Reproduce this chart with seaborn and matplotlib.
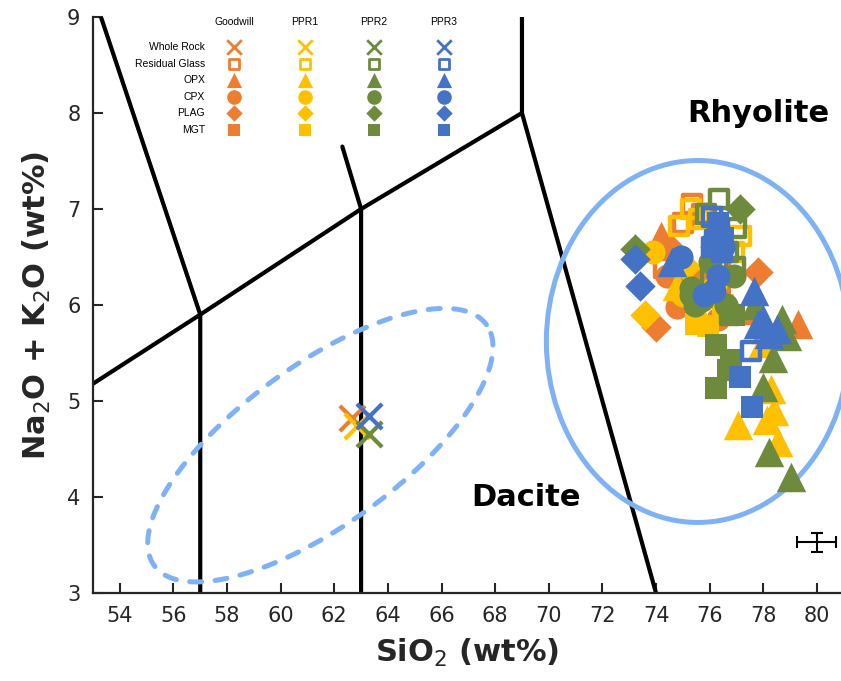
import numpy as np
import pandas as pd
import seaborn as sns
import matplotlib.pyplot as plt
from matplotlib.patches import Ellipse

groups = ["Goodwill", "PPR1", "PPR2", "PPR3"]
group_colors = ["#ED7D31", "#FFC000", "#6E8B3D", "#4472C4"]
phases = ["Whole Rock", "Residual Glass", "OPX", "CPX", "PLAG", "MGT"]
phase_markers = ["x", "s", "^", "o", "D", "s"]

# SiO2 (wt%) and Na2O+K2O (wt%), one list per group
whole_rock_sio2 = [[62.67], [62.86], [63.3], [63.3]]
whole_rock_alk = [[4.82], [4.74], [4.66], [4.84]]

glass_sio2 = [[74.3, 75.35, 75.7, 76.65, 75.0, 76.4],
              [74.85, 77.15, 75.3, 76.9, 76.05, 75.6],
              [76.35, 76.05, 77.0, 76.7, 75.85, 76.95, 76.75],
              [77.55, 76.1, 76.35, 76.2, 76.45, 76.1]]
glass_alk = [[6.39, 7.05, 6.95, 5.93, 6.85, 6.45],
             [6.82, 6.72, 7.0, 6.55, 6.32, 6.9],
             [7.1, 6.27, 6.8, 6.55, 6.95, 6.4, 5.9],
             [5.52, 6.92, 6.8, 6.68, 6.55, 6.6]]

opx_sio2 = [[79.3, 74.2, 78.1, 77.7],
            [77.05, 78.3, 78.4, 78.15, 78.55, 74.8, 78.0],
            [78.0, 78.2, 79.05, 78.35, 78.9, 78.7, 77.7],
            [77.65, 78.0, 78.2, 77.8, 74.6, 78.5]]
opx_alk = [[5.8, 6.72, 5.75, 5.95],
           [4.75, 5.12, 4.9, 4.8, 4.57, 6.2, 5.6],
           [5.15, 4.47, 4.21, 5.45, 5.68, 5.85, 6.0],
           [6.15, 5.85, 5.7, 5.8, 6.45, 5.75]]

cpx_sio2 = [[74.8, 76.3, 75.2, 74.4],
            [73.9, 75.5, 76.2, 75.0],
            [75.3, 75.45, 75.3, 76.9, 76.6, 75.7, 76.0],
            [76.15, 74.95, 76.3, 75.8, 76.5]]
cpx_alk = [[5.98, 5.85, 6.2, 6.3],
           [6.55, 6.0, 6.2, 6.1],
           [6.1, 6.0, 6.18, 6.3, 6.0, 6.05, 6.45],
           [6.15, 6.5, 6.3, 6.1, 6.6]]

plag_sio2 = [[74.0, 77.8, 74.5],
             [73.6, 75.1],
             [77.15, 73.2, 75.9],
             [73.2, 73.4, 76.2]]
plag_alk = [[5.77, 6.34, 6.6],
            [5.9, 6.4],
            [7.0, 6.58, 6.1],
            [6.48, 6.2, 6.6]]

mgt_sio2 = [[76.4, 75.6],
            [75.95, 75.5, 76.5],
            [76.25, 76.8, 76.25, 76.7, 76.9],
            [77.13, 77.58, 76.3, 76.5]]
mgt_alk = [[6.1, 6.3],
           [5.78, 5.8, 6.0],
           [5.58, 5.43, 5.14, 5.32, 5.9],
           [5.25, 4.94, 6.85, 6.7]]

phase_sio2 = [whole_rock_sio2, glass_sio2, opx_sio2, cpx_sio2, plag_sio2, mgt_sio2]
phase_alk = [whole_rock_alk, glass_alk, opx_alk, cpx_alk, plag_alk, mgt_alk]

# analytical uncertainty bar
err_sio2, err_alk = 80.0, 3.53
err_x, err_y = 0.73, 0.1

rows = []
for p, xs_all, ys_all in zip(phases, phase_sio2, phase_alk):
    for g, xs, ys in zip(groups, xs_all, ys_all):
        for x, y in zip(xs, ys):
            rows.append({"group": g, "phase": p, "SiO2": x, "alk": y})
df = pd.DataFrame(rows)

sns.set_theme(style="ticks")
plt.rcParams['font.family'] = ['DejaVu Sans']
fig = plt.figure(figsize=(8.41, 6.81), dpi=100)
ax = fig.add_axes([93 / 841, 88 / 681, 748 / 841, 576 / 681])

# TAS field boundaries
tas_lines = [
    [(52.7, 9.5), (57, 5.9), (57, 2.5)],
    [(52, 5.0), (57, 5.9), (63, 7.0), (69, 8.0)],
    [(62.3, 7.65), (63, 7.0), (63, 2.5)],
    [(69, 9.5), (69, 8.0), (74.5, 2.5)],
]
for ln in tas_lines:
    xs, ys = zip(*ln)
    ax.plot(xs, ys, color="black", lw=3, solid_joinstyle="miter", zorder=1)

ell_color = "#7FB2F5"
ax.add_patch(Ellipse((75.56, 5.62), 11.3, 3.77, fill=False, ec=ell_color, lw=3.6, zorder=1))

# dashed ellipse (rotated on screen)
t = np.linspace(0, 2 * np.pi, 300)
a_px, b_px, th = 205, 80, np.deg2rad(36)
dx_px = a_px * np.cos(t) * np.cos(th) - b_px * np.sin(t) * np.sin(th)
dy_px = a_px * np.cos(t) * np.sin(th) + b_px * np.sin(t) * np.cos(th)
ax.plot(61.48 + dx_px / 26.77, 4.54 + dy_px / 96, color=ell_color, lw=3.6,
        ls=(0, (2.4, 2.7)), dash_capstyle="round", zorder=1)

sizes = {"x": 330, "s": 260, "^": 450, "o": 300, "D": 240}
for g, c in zip(groups, group_colors):
    for p, m in zip(phases, phase_markers):
        sub = df[(df.group == g) & (df.phase == p)]
        if sub.empty:
            continue
        if p == "Residual Glass":
            sns.scatterplot(data=sub, x="SiO2", y="alk", marker="s", s=170,
                            color=c, linewidth=3.2, ax=ax, zorder=3)
            ax.collections[-1].set_facecolor("none")
            ax.collections[-1].set_edgecolor(c)
        elif p == "Whole Rock":
            sns.scatterplot(data=sub, x="SiO2", y="alk", marker="x", s=sizes["x"],
                            color=c, linewidth=3, ax=ax, zorder=3)
        else:
            sns.scatterplot(data=sub, x="SiO2", y="alk", marker=m, s=sizes[m],
                            color=c, linewidth=0, ax=ax, zorder=3)

ax.errorbar(err_sio2, err_alk, xerr=err_x, yerr=err_y, color="black", lw=1.5,
            capsize=4.5, capthick=1.5, zorder=4)

ax.text(77.8, 7.99, "Rhyolite", fontsize=22, fontweight="bold", color="black",
        ha="center", va="center")
ax.text(69.14, 4.0, "Dacite", fontsize=22, fontweight="bold", color="black",
        ha="center", va="center")

ax.set_xlim(53, 80.9)
ax.set_ylim(3, 9)
ax.set_xticks(range(54, 81, 2))
ax.set_yticks(range(3, 10))
ax.tick_params(direction="in", length=7, width=1.5, labelsize=15, pad=9, colors="#262626")
for s in ["left", "bottom"]:
    ax.spines[s].set_linewidth(1.6)
    ax.spines[s].set_color("#262626")
sns.despine(ax=ax)
ax.set_xlabel("SiO$_2$ (wt%)", fontsize=22, fontweight="bold", labelpad=8)
ax.set_ylabel("Na$_2$O + K$_2$O (wt%)", fontsize=22, fontweight="bold", labelpad=10)

# legend block drawn in figure pixels
col_x = [234, 305, 374, 444]
row_y = [47, 64, 80, 97, 113, 130]
leg_font = ["Liberation Sans", "DejaVu Sans"]
for g, cx in zip(groups, col_x):
    fig.text(cx / 841, 1 - 22 / 681, g, fontsize=7.5, family=leg_font, color="black",
             ha="center", va="center")
for p, ry in zip(phases, row_y):
    fig.text(205 / 841, 1 - ry / 681, p, fontsize=7.5, family=leg_font, color="black",
             ha="right", va="center")
leg_sizes = {"x": 110, "s": 75, "^": 120, "o": 110, "D": 70}
for c, cx in zip(group_colors, col_x):
    for p, m, ry in zip(phases, phase_markers, row_y):
        pos = (cx / 841, 1 - ry / 681)
        if p == "Residual Glass":
            ax.scatter(*pos, marker="s", s=60, facecolor="none", edgecolor=c, lw=2,
                       transform=fig.transFigure, clip_on=False)
        elif p == "Whole Rock":
            ax.scatter(*pos, marker="x", s=leg_sizes["x"], color=c, lw=2,
                       transform=fig.transFigure, clip_on=False)
        else:
            ax.scatter(*pos, marker=m, s=leg_sizes[m], color=c, lw=0,
                       transform=fig.transFigure, clip_on=False)

fig.savefig("out.png", dpi=100)
